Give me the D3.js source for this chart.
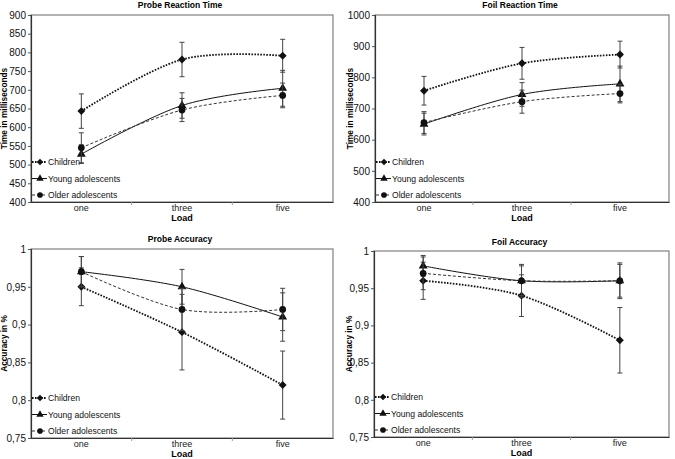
<!DOCTYPE html>
<html>
<head>
<meta charset="utf-8">
<script src="https://cdn.jsdelivr.net/npm/d3@7"></script>
<style>
  body { margin: 0; background: #fff; }
  svg { font-family: "Liberation Sans", Arial, sans-serif; }
</style>
</head>
<body>
<svg id="chart" width="675" height="459"></svg>
<script>
const loads = ["one", "three", "five"];
const groups = ["Children", "Young adolescents", "Older adolescents"];

// Probe reaction time (ms), means and half error bars
const probeRtChildren = [643, 781, 791];
const probeRtChildrenErr = [46, 46, 44];
const probeRtYoung = [528, 658, 704];
const probeRtYoungErr = [25, 34, 48];
const probeRtOlder = [545, 646, 685];
const probeRtOlderErr = [40, 31, 33];
const probeRtTicks = [400, 450, 500, 550, 600, 650, 700, 750, 800, 850, 900];

// Foil reaction time (ms)
const foilRtChildren = [757, 845, 873];
const foilRtChildrenErr = [46, 51, 43];
const foilRtYoung = [650, 745, 779];
const foilRtYoungErr = [35, 38, 57];
const foilRtOlder = [655, 722, 748];
const foilRtOlderErr = [35, 37, 30];
const foilRtTicks = [400, 500, 600, 700, 800, 900, 1000];

// Probe accuracy
const probeAccChildren = [0.95, 0.89, 0.82];
const probeAccChildrenErr = [0.025, 0.05, 0.045];
const probeAccYoung = [0.97, 0.95, 0.91];
const probeAccYoungErr = [0.02, 0.023, 0.032];
const probeAccOlder = [0.97, 0.92, 0.92];
const probeAccOlderErr = [0.02, 0.028, 0.028];
const accTicks = [0.75, 0.8, 0.85, 0.9, 0.95, 1];

// Foil accuracy
const foilAccChildren = [0.96, 0.94, 0.88];
const foilAccChildrenErr = [0.025, 0.028, 0.044];
const foilAccYoung = [0.98, 0.96, 0.96];
const foilAccYoungErr = [0.014, 0.022, 0.024];
const foilAccOlder = [0.97, 0.96, 0.96];
const foilAccOlderErr = [0.022, 0.02, 0.022];

const styles = [
  { dash: "1.6,1.4", width: 1.8, color: "#111", symbol: d3.symbolDiamond2, size: 40 },
  { dash: null, width: 1, color: "#111", symbol: d3.symbolTriangle, size: 34 },
  { dash: "3,2", width: 1, color: "#333", symbol: d3.symbolCircle, size: 36 }
];

const commaFmt = d => String(d).replace(".", ",");

const panels = [
  { title: "Probe Reaction Time", yLabel: "Time in milliseconds", box: [31, 15, 333, 202], titleY: 8, yLabelX: 7,
    ticks: probeRtTicks, fmt: d => d,
    means: [probeRtChildren, probeRtYoung, probeRtOlder], errs: [probeRtChildrenErr, probeRtYoungErr, probeRtOlderErr] },
  { title: "Foil Reaction Time", yLabel: "Time in milliseconds", box: [375, 15, 669, 202], titleY: 8, yLabelX: 353,
    ticks: foilRtTicks, fmt: d => d,
    means: [foilRtChildren, foilRtYoung, foilRtOlder], errs: [foilRtChildrenErr, foilRtYoungErr, foilRtOlderErr] },
  { title: "Probe Accuracy", yLabel: "Accuracy in %", box: [31, 249, 333, 438], titleY: 242, yLabelX: 7,
    ticks: accTicks, fmt: commaFmt,
    means: [probeAccChildren, probeAccYoung, probeAccOlder], errs: [probeAccChildrenErr, probeAccYoungErr, probeAccOlderErr] },
  { title: "Foil Accuracy", yLabel: "Accuracy in %", box: [374, 251, 669, 437], titleY: 245, yLabelX: 352,
    ticks: accTicks, fmt: commaFmt,
    means: [foilAccChildren, foilAccYoung, foilAccOlder], errs: [foilAccChildrenErr, foilAccYoungErr, foilAccOlderErr] }
];

const svg = d3.select("#chart");

panels.forEach(p => {
  const [x0, y0, x1, y1] = p.box;
  const g = svg.append("g");

  const xBand = d3.scaleBand().domain(loads).range([x0, x1]);
  const x = d => xBand(d) + xBand.bandwidth() / 2;
  const y = d3.scaleLinear().domain(d3.extent(p.ticks)).range([y1, y0]);

  // frame
  g.append("rect")
    .attr("x", x0).attr("y", y0)
    .attr("width", x1 - x0).attr("height", y1 - y0)
    .attr("fill", "#fff")
    .attr("stroke", "#8a8a8a")
    .attr("stroke-width", 1.3);

  // y axis
  const yAxis = g.append("g")
    .attr("transform", `translate(${x0},0)`)
    .call(d3.axisLeft(y).tickValues(p.ticks).tickSize(3).tickPadding(2).tickFormat(p.fmt));
  yAxis.select(".domain").attr("stroke", "#333").attr("stroke-width", 1.2);
  yAxis.selectAll(".tick line").attr("stroke", "#555");
  yAxis.selectAll("text").attr("font-size", 10).attr("fill", "#111").attr("font-family", null);

  // x axis
  const xAxis = g.append("g")
    .attr("transform", `translate(0,${y1})`)
    .call(d3.axisBottom(xBand).tickSize(0).tickPadding(3));
  xAxis.select(".domain").attr("stroke", "#333").attr("stroke-width", 1.2);
  xAxis.selectAll("text").attr("font-size", 9).attr("fill", "#222").attr("font-family", null);

  // minor marks between categories
  g.selectAll(".xsep")
    .data(loads.slice(1))
    .join("line")
    .attr("class", "xsep")
    .attr("x1", d => xBand(d)).attr("x2", d => xBand(d))
    .attr("y1", y1).attr("y2", y1 + 3)
    .attr("stroke", "#999");

  // titles
  g.append("text")
    .attr("x", (x0 + x1) / 2 - 2)
    .attr("y", p.titleY)
    .attr("text-anchor", "middle")
    .attr("font-size", 8.5)
    .attr("font-weight", "bold")
    .text(p.title);

  g.append("text")
    .attr("x", (x0 + x1) / 2)
    .attr("y", y1 + 19)
    .attr("text-anchor", "middle")
    .attr("font-size", 9)
    .attr("font-weight", "bold")
    .text("Load");

  g.append("text")
    .attr("transform", `translate(${p.yLabelX},${(y0 + y1) / 2}) rotate(-90)`)
    .attr("text-anchor", "middle")
    .attr("font-size", 8.3)
    .attr("font-weight", "bold")
    .text(p.yLabel);

  const line = d3.line()
    .x((d, i) => x(loads[i]))
    .y(d => y(d))
    .curve(d3.curveCardinal);

  groups.forEach((name, gi) => {
    const st = styles[gi];
    const means = p.means[gi];
    const errs = p.errs[gi];

    // error bars
    const eb = g.append("g");
    eb.selectAll("line.v")
      .data(means)
      .join("line")
      .attr("class", "v")
      .attr("x1", (d, i) => x(loads[i])).attr("x2", (d, i) => x(loads[i]))
      .attr("y1", (d, i) => y(d - errs[i])).attr("y2", (d, i) => y(d + errs[i]))
      .attr("stroke", "#444").attr("stroke-width", 1);
    eb.selectAll("line.top")
      .data(means)
      .join("line")
      .attr("class", "top")
      .attr("x1", (d, i) => x(loads[i]) - 2.5).attr("x2", (d, i) => x(loads[i]) + 2.5)
      .attr("y1", (d, i) => y(d + errs[i])).attr("y2", (d, i) => y(d + errs[i]))
      .attr("stroke", "#444");
    eb.selectAll("line.bot")
      .data(means)
      .join("line")
      .attr("class", "bot")
      .attr("x1", (d, i) => x(loads[i]) - 2.5).attr("x2", (d, i) => x(loads[i]) + 2.5)
      .attr("y1", (d, i) => y(d - errs[i])).attr("y2", (d, i) => y(d - errs[i]))
      .attr("stroke", "#444");

    g.append("path")
      .datum(means)
      .attr("d", line)
      .attr("fill", "none")
      .attr("stroke", st.color)
      .attr("stroke-width", st.width)
      .attr("stroke-dasharray", st.dash);

    g.selectAll(null)
      .data(means)
      .join("path")
      .attr("transform", (d, i) => `translate(${x(loads[i])},${y(d)})`)
      .attr("d", d3.symbol().type(st.symbol).size(st.size))
      .attr("fill", "#111");

    // legend
    const ly = y1 - 40 + gi * 16.5;
    const lg = g.append("g").attr("transform", `translate(${x0 + 1},${ly})`);
    lg.append("line")
      .attr("x1", 0).attr("x2", 15).attr("y1", 0).attr("y2", 0)
      .attr("stroke", st.color)
      .attr("stroke-width", st.width)
      .attr("stroke-dasharray", st.dash);
    lg.append("path")
      .attr("transform", "translate(8,0)")
      .attr("d", d3.symbol().type(st.symbol).size(st.size * 0.7))
      .attr("fill", "#111");
    lg.append("text")
      .attr("x", 16)
      .attr("y", 3.2)
      .attr("font-size", 8.6)
      .attr("fill", "#111")
      .text(name);
  });
});
</script>
</body>
</html>
